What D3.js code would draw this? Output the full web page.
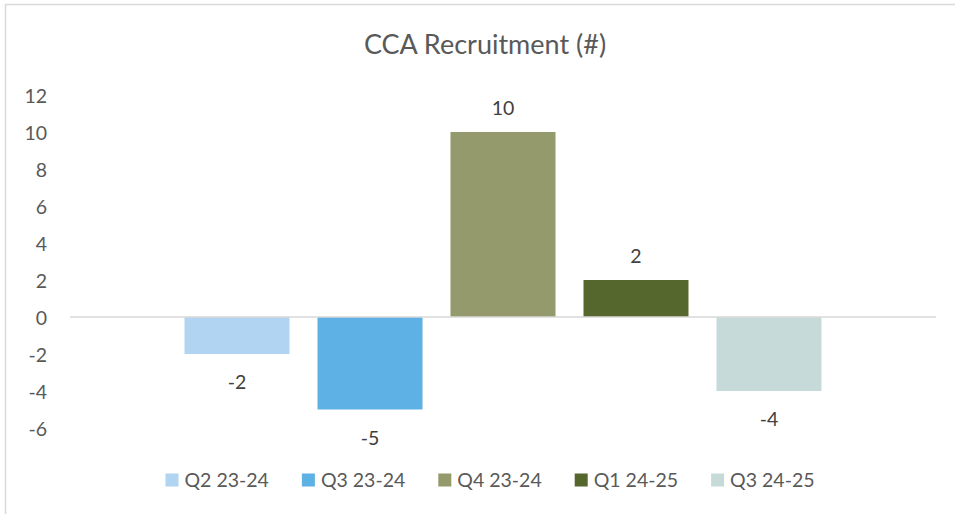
<!DOCTYPE html>
<html>
<head>
<meta charset="utf-8">
<script src="https://cdn.jsdelivr.net/npm/d3@7"></script>
<style>
  html, body { margin: 0; padding: 0; background: #fff; }
  svg { display: block; font-family: Lato, "Open Sans", sans-serif; }
</style>
</head>
<body>
<svg id="chart" width="955" height="514"></svg>
<script>
// Quarterly CCA recruitment change, one bar per quarter
const chartTitle = "CCA Recruitment (#)";
const quarters = ["Q2 23-24", "Q3 23-24", "Q4 23-24", "Q1 24-25", "Q3 24-25"];
const recruitment = [-2, -5, 10, 2, -4];
const barColors = ["#b0d4f1", "#5eb1e4", "#949a6c", "#55672c", "#c5dad9"];
const yTicks = [-6, -4, -2, 0, 2, 4, 6, 8, 10, 12];

const textSize = 19.5;
const svg = d3.select("#chart");

// chart frame (right and bottom edges run past the canvas)
svg.append("rect")
  .attr("x", 5.5).attr("y", 4.5)
  .attr("width", 1000).attr("height", 600)
  .attr("fill", "none")
  .attr("stroke", "#d9d9d9")
  .attr("stroke-width", 1.5);

const plot = { left: 70, right: 936, top: 95, bottom: 428 };

const x = d3.scaleBand()
  .domain(quarters)
  .range([plot.left, plot.right])
  .paddingInner(0.2105)
  .paddingOuter(0.861);

const y = d3.scaleLinear()
  .domain([d3.min(yTicks), d3.max(yTicks)])
  .range([plot.bottom, plot.top]);

// title
svg.append("text")
  .attr("x", 485).attr("y", 54)
  .attr("text-anchor", "middle")
  .attr("fill", "#595959")
  .attr("font-size", 27)
  .text(chartTitle);

// value axis: labels only, no line or ticks
const yAxis = svg.append("g")
  .attr("transform", `translate(${plot.left - 23},0)`)
  .call(d3.axisLeft(y).tickValues(yTicks).tickSize(0).tickPadding(0)
    .tickFormat(d => String(d)));
yAxis.select(".domain").remove();
yAxis.selectAll("text")
  .attr("font-family", "Lato, 'Open Sans', sans-serif")
  .attr("font-size", textSize)
  .attr("fill", "#595959")
  .attr("dy", "0.36em");

// bars
const data = quarters.map((q, i) => ({ q, v: recruitment[i], c: barColors[i] }));

svg.append("g").selectAll("rect")
  .data(data)
  .join("rect")
  .attr("x", d => x(d.q))
  .attr("width", x.bandwidth())
  .attr("y", d => y(Math.max(0, d.v)))
  .attr("height", d => Math.abs(y(d.v) - y(0)))
  .attr("fill", d => d.c);

// zero line
svg.append("line")
  .attr("x1", plot.left).attr("x2", plot.right)
  .attr("y1", y(0)).attr("y2", y(0))
  .attr("stroke", "#d9d9d9")
  .attr("stroke-width", 1.5);

// value labels outside bar ends
svg.append("g").selectAll("text")
  .data(data)
  .join("text")
  .attr("x", d => x(d.q) + x.bandwidth() / 2)
  .attr("y", d => d.v >= 0 ? y(d.v) - 17 : y(d.v) + 35)
  .attr("text-anchor", "middle")
  .attr("fill", "#404040")
  .attr("font-size", textSize)
  .text(d => String(d.v));

// legend, centred under the plot
const legend = svg.append("g");
const items = legend.selectAll("g")
  .data(data)
  .join("g");
items.append("rect")
  .attr("width", 13).attr("height", 13)
  .attr("y", 473.5)
  .attr("fill", d => d.c);
items.append("text")
  .attr("x", 19)
  .attr("y", 487)
  .attr("fill", "#595959")
  .attr("font-size", textSize)
  .text(d => d.q);

let cursor = 0;
const gap = 33;
const offsets = [];
items.each(function () {
  const w = this.querySelector("text").getComputedTextLength();
  offsets.push(cursor);
  cursor += 19 + w + gap;
});
const total = cursor - gap;
const startX = 490 - total / 2;
items.attr("transform", (d, i) => `translate(${startX + offsets[i]},0)`);
</script>
</body>
</html>
